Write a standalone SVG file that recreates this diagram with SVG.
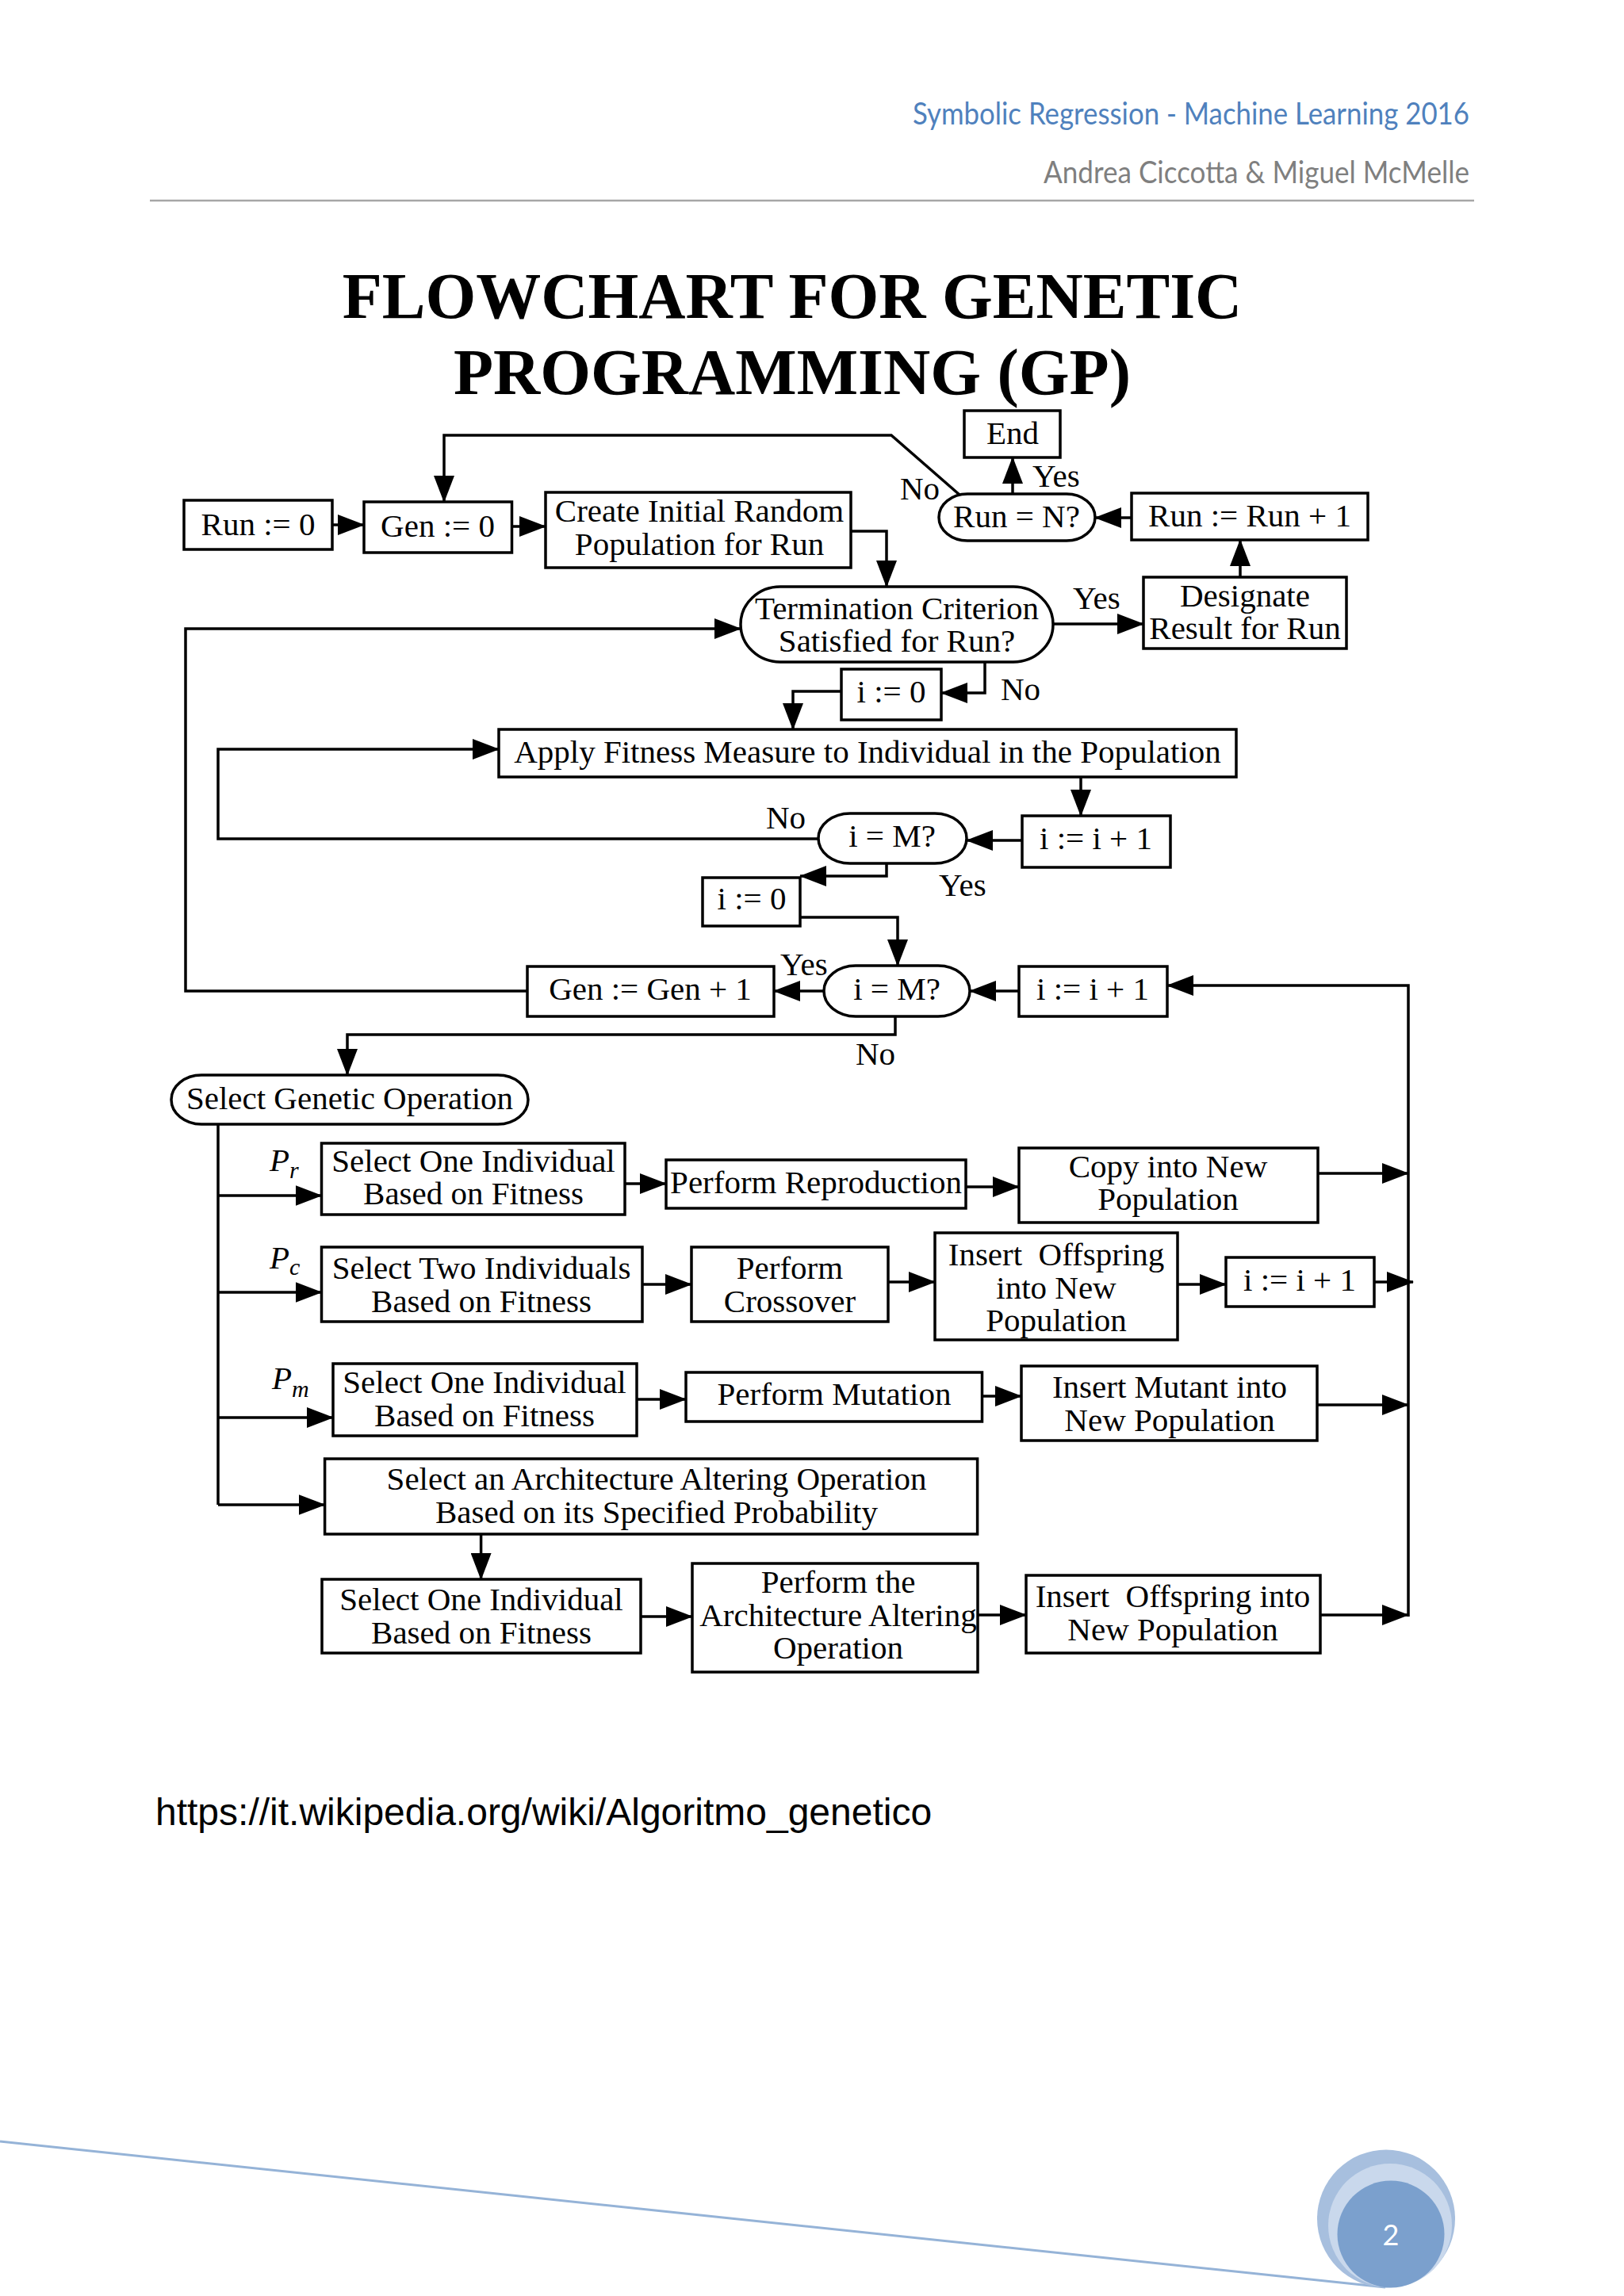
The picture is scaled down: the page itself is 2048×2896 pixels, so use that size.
<svg xmlns="http://www.w3.org/2000/svg" width="2048" height="2896" viewBox="0 0 2048 2896">
<defs>
<marker id="ah" markerUnits="userSpaceOnUse" markerWidth="34" markerHeight="26" refX="33" refY="13" orient="auto">
<path d="M0,0 L34,13 L0,26 z" fill="#000"/>
</marker>
<style>
.box{fill:#fff;stroke:#000;stroke-width:3.5}
.t{font-family:"Liberation Serif","Times New Roman",serif;font-size:41px;text-anchor:middle;fill:#000}
.l{font-family:"Liberation Serif","Times New Roman",serif;font-size:41px;fill:#000}
.p{font-family:"Liberation Serif","Times New Roman",serif;font-size:41px;font-style:italic;fill:#000}
.c{fill:none;stroke:#000;stroke-width:3.5;marker-end:url(#ah)}
.cn{fill:none;stroke:#000;stroke-width:3.5}
.hdr{font-family:Lato,"Open Sans",sans-serif;font-size:38px;text-anchor:end}
</style>
</defs>
<rect x="0" y="0" width="2048" height="2896" fill="#fff"/>
<g id="header">
<text class="hdr" x="1853" y="157" fill="#4F81BD" textLength="702" lengthAdjust="spacingAndGlyphs">Symbolic Regression - Machine Learning 2016</text>
<text class="hdr" x="1853" y="231" fill="#7F7F7F" textLength="537" lengthAdjust="spacingAndGlyphs">Andrea Ciccotta &amp; Miguel McMelle</text>
<line x1="189" y1="253" x2="1859" y2="253" stroke="#A6A6A6" stroke-width="2.5"/>
</g>
<g id="title" font-family="Liberation Serif,Times New Roman,serif" font-weight="bold" font-size="82" text-anchor="middle">
<text x="999" y="401">FLOWCHART FOR GENETIC<tspan x="999" dy="96">PROGRAMMING (GP)</tspan></text>
</g>
<g id="connectors">
<path class="c" d="M419,662 L459,662"/>
<path class="c" d="M645.5,664 L688,664"/>
<path class="c" d="M1073,670 L1118,670 L1118,740"/>
<path class="c" d="M1328,787 L1442,787"/>
<path class="c" d="M1564,728 L1564,681"/>
<path class="c" d="M1427,653 L1381,653"/>
<path class="c" d="M1277,623 L1277,577"/>
<path class="c" d="M1210,624 L1124,549 L560,549 L560,633"/>
<path class="c" d="M1242,835 L1242,874 L1187,874"/>
<path class="c" d="M1061,872 L1000,872 L1000,920"/>
<path class="c" d="M1363,980 L1363,1029"/>
<path class="c" d="M1289,1060 L1219,1060"/>
<path class="c" d="M1032,1058 L275,1058 L275,945 L629,945"/>
<path class="c" d="M1118,1089 L1118,1105 L1009,1105"/>
<path class="c" d="M1009,1157 L1132,1157 L1132,1218"/>
<path class="c" d="M1285,1250 L1223,1250"/>
<path class="c" d="M1039,1250 L976,1250"/>
<path class="c" d="M665,1250 L234,1250 L234,793 L934,793"/>
<path class="c" d="M1129,1282 L1129,1305 L438,1305 L438,1356"/>
<path class="cn" d="M275,1418 L275,1898"/>
<path class="c" d="M275,1508 L405.5,1508"/>
<path class="c" d="M275,1630 L405.5,1630"/>
<path class="c" d="M275,1788 L420,1788"/>
<path class="c" d="M275,1898 L409.6,1898"/>
<path class="c" d="M788,1493 L840,1493"/>
<path class="c" d="M1218,1497 L1285,1497"/>
<path class="c" d="M1662,1480 L1776,1480"/>
<path class="c" d="M810,1620 L872,1620"/>
<path class="c" d="M1120,1617 L1179,1617"/>
<path class="c" d="M1485,1620 L1546,1620"/>
<path class="c" d="M1733,1617 L1782,1617"/>
<path class="c" d="M803,1765 L865,1765"/>
<path class="c" d="M1238.5,1761 L1288,1761"/>
<path class="c" d="M1661,1772 L1776,1772"/>
<path class="c" d="M606.6,1935 L606.6,1992"/>
<path class="c" d="M808,2039 L873,2039"/>
<path class="c" d="M1233,2037 L1294,2037"/>
<path class="c" d="M1665,2037 L1776,2037"/>
<path class="c" d="M1776,2039 L1776,1243 L1472,1243"/>
</g>
<g id="labels">
<text class="l" x="1135" y="630">No</text>
<text class="l" x="1302" y="614">Yes</text>
<text class="l" x="1353" y="768">Yes</text>
<text class="l" x="1262" y="883">No</text>
<text class="l" x="966" y="1045">No</text>
<text class="l" x="1184" y="1130">Yes</text>
<text class="l" x="984" y="1230">Yes</text>
<text class="l" x="1079" y="1343">No</text>
<text class="p" x="340" y="1477">P<tspan font-size="30" dy="9">r</tspan></text>
<text class="p" x="340" y="1600">P<tspan font-size="30" dy="8">c</tspan></text>
<text class="p" x="343" y="1752">P<tspan font-size="30" dy="10">m</tspan></text>
</g>
<g id="run0"><rect class="box" x="232" y="631" width="187" height="62"/><text class="t" x="325.5" y="675">Run := 0</text></g>
<g id="gen0"><rect class="box" x="459" y="633" width="186.5" height="64"/><text class="t" x="552" y="677">Gen := 0</text></g>
<g id="create"><rect class="box" x="688" y="621" width="385" height="95"/><text class="t" x="882" y="658">Create Initial Random<tspan x="882" dy="42">Population for Run</tspan></text></g>
<g id="end"><rect class="box" x="1216" y="518" width="121" height="59"/><text class="t" x="1277" y="560">End</text></g>
<g id="runN"><rect class="box" x="1184" y="623" width="197" height="59" rx="36" ry="29.5"/><text class="t" x="1282" y="665">Run = N?</text></g>
<g id="runInc"><rect class="box" x="1427" y="622" width="298" height="59"/><text class="t" x="1576" y="664">Run := Run + 1</text></g>
<g id="term"><rect class="box" x="934" y="740" width="394" height="95" rx="50" ry="47.5"/><text class="t" x="1131" y="781">Termination Criterion<tspan x="1131" dy="41">Satisfied for Run?</tspan></text></g>
<g id="designate"><rect class="box" x="1442" y="728" width="256" height="90"/><text class="t" x="1570" y="765">Designate<tspan x="1570" dy="41">Result for Run</tspan></text></g>
<g id="i0a"><rect class="box" x="1061" y="844" width="126" height="64"/><text class="t" x="1124" y="886">i := 0</text></g>
<g id="apply"><rect class="box" x="629" y="920" width="930" height="60"/><text class="t" x="1094" y="962">Apply Fitness Measure to Individual in the Population</text></g>
<g id="incA"><rect class="box" x="1289" y="1029" width="187" height="65"/><text class="t" x="1382" y="1071">i := i + 1</text></g>
<g id="imA"><rect class="box" x="1032" y="1026" width="187" height="63" rx="40" ry="31.5"/><text class="t" x="1125" y="1068">i = M?</text></g>
<g id="i0b"><rect class="box" x="886" y="1107" width="123" height="61"/><text class="t" x="948" y="1147">i := 0</text></g>
<g id="imB"><rect class="box" x="1039" y="1218" width="184" height="64" rx="40" ry="32"/><text class="t" x="1131" y="1261">i = M?</text></g>
<g id="incB"><rect class="box" x="1285" y="1219" width="187" height="63"/><text class="t" x="1378" y="1261">i := i + 1</text></g>
<g id="genInc"><rect class="box" x="665" y="1219" width="311" height="63"/><text class="t" x="820" y="1261">Gen := Gen + 1</text></g>
<g id="selGen"><rect class="box" x="216" y="1356" width="450" height="62" rx="38" ry="31"/><text class="t" x="441" y="1399">Select Genetic Operation</text></g>
<g id="selPr"><rect class="box" x="405.5" y="1442" width="382.5" height="90"/><text class="t" x="597" y="1478">Select One Individual<tspan x="597" dy="41">Based on Fitness</tspan></text></g>
<g id="repro"><rect class="box" x="840" y="1463" width="378" height="61"/><text class="t" x="1029" y="1505">Perform Reproduction</text></g>
<g id="copy"><rect class="box" x="1285" y="1448" width="377" height="94"/><text class="t" x="1473" y="1485">Copy into New<tspan x="1473" dy="41">Population</tspan></text></g>
<g id="selTwo"><rect class="box" x="405.5" y="1573" width="404.5" height="94"/><text class="t" x="607" y="1613">Select Two Individuals<tspan x="607" dy="42">Based on Fitness</tspan></text></g>
<g id="cross"><rect class="box" x="872" y="1573" width="248" height="94"/><text class="t" x="996" y="1613">Perform<tspan x="996" dy="42">Crossover</tspan></text></g>
<g id="insOff"><rect class="box" x="1179" y="1555" width="306" height="135"/><text class="t" x="1332" y="1596" xml:space="preserve">Insert  Offspring<tspan x="1332" dy="41.5">into New</tspan><tspan x="1332" dy="41.5">Population</tspan></text></g>
<g id="incC"><rect class="box" x="1546" y="1586" width="187" height="62"/><text class="t" x="1639" y="1628">i := i + 1</text></g>
<g id="selPm"><rect class="box" x="420" y="1720" width="383" height="91"/><text class="t" x="611" y="1757">Select One Individual<tspan x="611" dy="41.5">Based on Fitness</tspan></text></g>
<g id="mut"><rect class="box" x="865" y="1731" width="373.5" height="62"/><text class="t" x="1052" y="1772">Perform Mutation</text></g>
<g id="insMut"><rect class="box" x="1288" y="1723" width="373" height="94"/><text class="t" x="1475" y="1763">Insert Mutant into<tspan x="1475" dy="42">New Population</tspan></text></g>
<g id="selArch"><rect class="box" x="409.6" y="1840" width="823" height="95"/><text class="t" x="828" y="1879">Select an Architecture Altering Operation<tspan x="828" dy="41.5">Based on its Specified Probability</tspan></text></g>
<g id="selOne2"><rect class="box" x="406" y="1992" width="402" height="93"/><text class="t" x="607" y="2031">Select One Individual<tspan x="607" dy="41.5">Based on Fitness</tspan></text></g>
<g id="perfArch"><rect class="box" x="873" y="1972" width="360" height="137"/><text class="t" x="1057" y="2009">Perform the<tspan x="1057" dy="41.5">Architecture Altering</tspan><tspan x="1057" dy="41.5">Operation</tspan></text></g>
<g id="insOff2"><rect class="box" x="1294" y="1987" width="371" height="98"/><text class="t" x="1479" y="2027" xml:space="preserve">Insert  Offspring into<tspan x="1479" dy="41.5">New Population</tspan></text></g>
<g id="footer">
<text x="196" y="2302" font-family="Liberation Sans,Arial,sans-serif" font-size="48" fill="#000">https://it.wikipedia.org/wiki/Algoritmo_genetico</text>
<line x1="0" y1="2701" x2="1747" y2="2885" stroke="#95B3D7" stroke-width="3"/>
<circle cx="1748" cy="2798.5" r="87" fill="#A7BFDE"/>
<circle cx="1753" cy="2807" r="78" fill="#C9D8EC"/>
<circle cx="1754" cy="2818" r="67.5" fill="#7BA0CD"/>
<text x="1754" y="2832" font-family="Lato,Open Sans,sans-serif" font-size="36" fill="#fff" text-anchor="middle">2</text>
</g>
</svg>
